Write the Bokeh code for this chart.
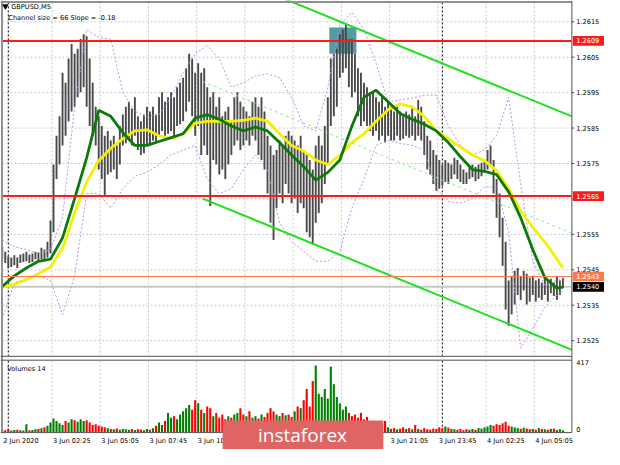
from bokeh.plotting import figure
from bokeh.models import Range1d
from bokeh.core.properties import value
from bokeh.embed import file_html
from bokeh.resources import INLINE

# ---------------- data ----------------
# one entry per 10-minute bar; time = M5 bar index counted from 3 Jun 00:00
bar_time = list(range(-4, 370, 2))
bar_high = [
    1.25515, 1.25501, 1.25488, 1.25485, 1.25491, 1.25485, 1.25493, 1.25496, 1.25501, 1.25493,
    1.25496, 1.25501, 1.25499, 1.25512, 1.25507, 1.25529, 1.25589, 1.25747, 1.25828, 1.25883,
    1.26006, 1.25978, 1.26046, 1.26087, 1.26060, 1.26074, 1.26101, 1.26115, 1.26109, 1.26046,
    1.25978, 1.25910, 1.25883, 1.25856, 1.25828, 1.25842, 1.25815, 1.25828, 1.25801, 1.25856,
    1.25888, 1.25910, 1.25924, 1.25905, 1.25937, 1.25883, 1.25869, 1.25888, 1.25910, 1.25897,
    1.25910, 1.25888, 1.25937, 1.25951, 1.25924, 1.25937, 1.25951, 1.25937, 1.25965, 1.25978,
    1.25992, 1.26019, 1.26060, 1.26046, 1.26006, 1.26033, 1.26006, 1.26019, 1.25965, 1.25937,
    1.25951, 1.25910, 1.25937, 1.25883, 1.25897, 1.25910, 1.25869, 1.25937, 1.25951, 1.25924,
    1.25910, 1.25897, 1.25883, 1.25924, 1.25937, 1.25910, 1.25937, 1.25897, 1.25828, 1.25801,
    1.25774, 1.25788, 1.25815, 1.25801, 1.25828, 1.25842, 1.25828, 1.25815, 1.25801, 1.25828,
    1.25788, 1.25774, 1.25760, 1.25733, 1.25801, 1.25828, 1.25801, 1.25856, 1.25937, 1.26046,
    1.26060, 1.26074, 1.26115, 1.26128, 1.26142, 1.26101, 1.26101, 1.26060, 1.26019, 1.26006,
    1.25978, 1.25965, 1.25951, 1.25951, 1.25937, 1.25924, 1.25937, 1.25910, 1.25924, 1.25910,
    1.25897, 1.25910, 1.25897, 1.25883, 1.25897, 1.25888, 1.25905, 1.25883, 1.25929, 1.25910,
    1.25869, 1.25828, 1.25815, 1.25788, 1.25774, 1.25760, 1.25747, 1.25760, 1.25752, 1.25747,
    1.25766, 1.25760, 1.25747, 1.25733, 1.25725, 1.25741, 1.25747, 1.25741, 1.25747, 1.25752,
    1.25760, 1.25788, 1.25801, 1.25760, 1.25706, 1.25665, 1.25597, 1.25529, 1.25420, 1.25433,
    1.25447, 1.25455, 1.25433, 1.25447, 1.25439, 1.25428, 1.25433, 1.25420, 1.25425, 1.25414,
    1.25428, 1.25420, 1.25425, 1.25414, 1.25433, 1.25420, 1.25428,
]
bar_low = [
    1.25480, 1.25469, 1.25455, 1.25458, 1.25463, 1.25455, 1.25469, 1.25472, 1.25474, 1.25469,
    1.25472, 1.25480, 1.25474, 1.25480, 1.25480, 1.25485, 1.25496, 1.25556, 1.25706, 1.25747,
    1.25801, 1.25828, 1.25869, 1.25897, 1.25910, 1.25937, 1.25951, 1.25965, 1.25910, 1.25856,
    1.25828, 1.25801, 1.25733, 1.25706, 1.25660, 1.25719, 1.25725, 1.25733, 1.25706, 1.25747,
    1.25801, 1.25807, 1.25815, 1.25801, 1.25828, 1.25788, 1.25774, 1.25779, 1.25801, 1.25801,
    1.25815, 1.25807, 1.25828, 1.25842, 1.25828, 1.25834, 1.25842, 1.25828, 1.25856, 1.25861,
    1.25869, 1.25897, 1.25924, 1.25883, 1.25828, 1.25856, 1.25774, 1.25801, 1.25774, 1.25630,
    1.25760, 1.25747, 1.25719, 1.25733, 1.25706, 1.25747, 1.25774, 1.25801, 1.25815, 1.25788,
    1.25801, 1.25815, 1.25801, 1.25828, 1.25815, 1.25774, 1.25760, 1.25733, 1.25665, 1.25583,
    1.25534, 1.25624, 1.25665, 1.25638, 1.25692, 1.25665, 1.25638, 1.25651, 1.25610, 1.25638,
    1.25624, 1.25556, 1.25542, 1.25521, 1.25583, 1.25610, 1.25638, 1.25692, 1.25747, 1.25856,
    1.25883, 1.25910, 1.25992, 1.26006, 1.26019, 1.25965, 1.25937, 1.25951, 1.25883, 1.25856,
    1.25869, 1.25856, 1.25842, 1.25828, 1.25842, 1.25815, 1.25828, 1.25809, 1.25828, 1.25815,
    1.25815, 1.25828, 1.25815, 1.25820, 1.25828, 1.25823, 1.25828, 1.25815, 1.25828, 1.25815,
    1.25774, 1.25733, 1.25719, 1.25692, 1.25673, 1.25679, 1.25687, 1.25698, 1.25692, 1.25706,
    1.25719, 1.25706, 1.25698, 1.25692, 1.25692, 1.25706, 1.25711, 1.25700, 1.25706, 1.25714,
    1.25725, 1.25733, 1.25741, 1.25665, 1.25597, 1.25542, 1.25461, 1.25338, 1.25292, 1.25324,
    1.25352, 1.25379, 1.25365, 1.25392, 1.25352, 1.25360, 1.25379, 1.25360, 1.25371, 1.25365,
    1.25379, 1.25360, 1.25384, 1.25376, 1.25365, 1.25379, 1.25398,
]
volume = [
    15, 12, 18, 10, 14, 15, 12, 10, 50, 12, 14, 18, 20, 25, 30, 40, 60, 85, 70, 55,
    45, 70, 60, 80, 75, 65, 80, 70, 75, 60, 45, 50, 40, 35, 30, 25, 20, 18, 22, 15,
    20, 18, 15, 20, 14, 18, 16, 12, 20, 15, 25, 40, 60, 45, 70, 120, 90, 100, 80, 110,
    130, 150, 170, 140, 200, 180, 140, 120, 160, 150, 100, 120, 90, 110, 80, 100, 90, 110, 120, 150,
    110, 100, 130, 90, 100, 85, 110, 95, 120, 150, 130, 110, 100, 120, 105, 110, 95, 130, 160, 150,
    200, 270, 160, 320, 417, 240, 220, 270, 210, 410, 300, 220, 180, 140, 160, 120, 100, 110, 90, 120,
    80, 95, 70, 60, 50, 45, 55, 70, 30, 20, 25, 18, 22, 30, 20, 25, 18, 45, 20, 15,
    25, 18, 15, 22, 20, 30, 25, 35, 28, 20, 18, 15, 20, 12, 18, 15, 20, 14, 25, 22,
    30, 35, 45, 40, 50, 45, 55, 65, 40, 35, 30, 25, 20, 28, 22, 18, 20, 15, 25, 20,
    18, 15, 20, 22, 14, 18, 12,
]

# indicator lines sampled every 40 minutes
ind_time = list(range(-4, 368, 8)) + [368]
ma_green = [
    1.25403, 1.25433, 1.25455, 1.25474, 1.25480, 1.25540, 1.25651, 1.25766, 1.25900, 1.25883,
    1.25837, 1.25801, 1.25801, 1.25812, 1.25823, 1.25834, 1.25878, 1.25888, 1.25875, 1.25856,
    1.25842, 1.25853, 1.25842, 1.25809, 1.25774, 1.25741, 1.25703, 1.25725, 1.25760, 1.25856,
    1.25937, 1.25957, 1.25924, 1.25891, 1.25875, 1.25861, 1.25842, 1.25809, 1.25769, 1.25733,
    1.25728, 1.25719, 1.25670, 1.25597, 1.25507, 1.25428, 1.25398, 1.25401,
]
ma_yellow = [
    1.25401, 1.25409, 1.25422, 1.25439, 1.25458, 1.25510, 1.25610, 1.25698, 1.25758, 1.25793,
    1.25820, 1.25842, 1.25845, 1.25828, 1.25820, 1.25834, 1.25864, 1.25869, 1.25869, 1.25869,
    1.25872, 1.25878, 1.25869, 1.25834, 1.25801, 1.25785, 1.25760, 1.25747, 1.25774, 1.25809,
    1.25834, 1.25869, 1.25902, 1.25918, 1.25910, 1.25883, 1.25842, 1.25820, 1.25796, 1.25774,
    1.25758, 1.25730, 1.25679, 1.25616, 1.25570, 1.25529, 1.25480, 1.25455,
]
band_upper = [
    1.25534, 1.25515, 1.25507, 1.25496, 1.25507, 1.25597, 1.25910, 1.26128, 1.26106, 1.26101,
    1.25951, 1.25897, 1.25883, 1.25888, 1.25937, 1.26006, 1.26060, 1.26082, 1.26046, 1.25965,
    1.25978, 1.25997, 1.26003, 1.25992, 1.25937, 1.25856, 1.25842, 1.25965, 1.26142, 1.26177,
    1.26128, 1.26033, 1.25924, 1.25929, 1.25935, 1.25943, 1.25943, 1.25856, 1.25801, 1.25774,
    1.25788, 1.25828, 1.25937, 1.25692, 1.25474, 1.25406, 1.25420, 1.25425,
]
band_lower = [
    1.25311, 1.25414, 1.25425, 1.25433, 1.25420, 1.25324, 1.25433, 1.25665, 1.25665, 1.25624,
    1.25679, 1.25714, 1.25725, 1.25747, 1.25774, 1.25788, 1.25801, 1.25706, 1.25665, 1.25679,
    1.25733, 1.25774, 1.25733, 1.25583, 1.25529, 1.25502, 1.25474, 1.25474, 1.25502, 1.25624,
    1.25706, 1.25801, 1.25815, 1.25807, 1.25801, 1.25788, 1.25679, 1.25643, 1.25638, 1.25651,
    1.25684, 1.25684, 1.25556, 1.25229, 1.25284, 1.25344, 1.25379, 1.25392,
]

# linear regression channel (start / end time, prices)
channel_time = [129, 374]
channel_upper = [1.26309, 1.25883]
channel_mid = [1.25981, 1.25553]
channel_lower = [1.25651, 1.25224]

# rectangle object
box_time = [213, 231]
box_price = [1.26060, 1.26134]

# horizontal levels
level_price = [1.26096, 1.25658, 1.25431]
level_label = ["1.2609", "1.2565", "1.2543"]
bid_price = 1.25402
bid_label = "1.2540"

# axes
price_ticks = [1.2525, 1.2535, 1.2545, 1.2555, 1.2565, 1.2575, 1.2585, 1.2595, 1.2605, 1.2615]
price_tick_labels = ["1.2525", "1.2535", "1.2545", "1.2555", "1.2565",
                     "1.2575", "1.2585", "1.2595", "1.2605", "1.2615"]
time_ticks = [-4, 29, 61, 93, 125, 157, 189, 221, 253, 285, 317, 349]
time_tick_labels = ["2 Jun 2020", "3 Jun 02:25", "3 Jun 05:05", "3 Jun 07:45", "3 Jun 10:25",
                    "3 Jun 13:05", "3 Jun 15:45", "3 Jun 18:25", "3 Jun 21:05", "3 Jun 23:45",
                    "4 Jun 02:25", "4 Jun 05:05"]
day_breaks = [0, 288]
vol_ticks = [417, 0]
vol_tick_labels = ["417", "0"]

# ---------------- layout helpers (reference pixel -> data) ----------------
PX_PER_BAR = 1.547
X0_PX = 8.0
P_TOP = 1.26210
P_PER_PX = 0.00002725
V_BASE_PX = 447.0
V_PER_PX = 417 / 69.0


def bx(px):
    return (px - X0_PX) / PX_PER_BAR


def py(pyv):
    return P_TOP - P_PER_PX * pyv


def pv(pyv):
    return (V_BASE_PX - pyv) * V_PER_PX


FONT = value("DejaVu Sans")
FS = value("6.6px")

p = figure(width=604, height=449,
           x_range=Range1d(bx(0), bx(620)), y_range=Range1d(py(465), py(0)),
           output_backend="svg", toolbar_location=None,
           x_axis_location=None, y_axis_location=None, min_border=0,
           background_fill_color="white", border_fill_color="white",
           outline_line_color=None)
p.grid.visible = False
p.extra_y_ranges = {"vol": Range1d(pv(465), pv(0))}

GRID = "#c8c8c8"
# horizontal grid (price panel)
p.segment(x0=[bx(2)] * len(price_ticks), x1=[bx(586)] * len(price_ticks),
          y0=price_ticks, y1=price_ticks, line_color=GRID, line_dash="2 2", line_width=1)
# vertical grid in both panels
vt = time_ticks[1:]
for top, bot in ((2, 368), (373, 447)):
    p.segment(x0=vt, x1=vt, y0=[py(top)] * len(vt), y1=[py(bot)] * len(vt),
              line_color=GRID, line_dash="2 2", line_width=1)
    p.segment(x0=day_breaks, x1=day_breaks, y0=[py(top)] * 2, y1=[py(bot)] * 2,
              line_color="#000000", line_dash="2 2", line_width=1)

# rectangle object (background)
p.quad(left=[box_time[0]], right=[box_time[1]], bottom=[box_price[0]], top=[box_price[1]],
       fill_color="#3e9098", fill_alpha=0.9, line_color=None)

# bid line
p.segment(x0=[bx(2)], x1=[bx(586)], y0=[bid_price], y1=[bid_price], line_color="#c8c8c8", line_width=2)

# price bars
p.segment(x0=bar_time, x1=bar_time, y0=bar_low, y1=bar_high, line_color="#4a4a4a", line_width=1.9)

# envelope bands
p.line(ind_time, band_upper, line_color="#c58be8", line_dash="2 2", line_width=1)
p.line(ind_time, band_lower, line_color="#c58be8", line_dash="2 2", line_width=1)

# moving averages
p.line(ind_time, ma_yellow, line_color="#f5f000", line_width=2.8)
p.line(ind_time, ma_green, line_color="#0b7a0b", line_width=2.8)

# regression channel
p.line(channel_time, channel_upper, line_color="#1fe01f", line_width=2)
p.line(channel_time, channel_lower, line_color="#1fe01f", line_width=2)
p.line(channel_time, channel_mid, line_color="#8ee88e", line_width=1, line_dash="3 3")

# horizontal levels
lv_colors = ["#ff1a1a", "#ff1a1a", "#ff7a4a"]
lv_widths = [2, 2, 1]
for lv, c, w in zip(level_price, lv_colors, lv_widths):
    p.segment(x0=[bx(2)], x1=[bx(586)], y0=[lv], y1=[lv], line_color=c, line_width=w)

# volumes
mids = [(h + l) / 2 for h, l in zip(bar_high, bar_low)]
vcol = ["#008000" if i == 0 or mids[i] >= mids[i - 1] else "#ff0000" for i in range(len(mids))]
p.vbar(x=bar_time, top=volume, bottom=0, width=1.4, fill_color=vcol, line_color=None,
       y_range_name="vol")

# frame / panel borders
BORDER = "#505050"
p.segment(x0=[bx(0)], x1=[bx(586.5)], y0=[py(1.5)], y1=[py(1.5)], line_color="#909090", line_width=2)
p.segment(x0=[bx(1.5)], x1=[bx(1.5)], y0=[py(0)], y1=[py(447.5)], line_color="#909090", line_width=2)
p.segment(x0=[bx(0)] * 3, x1=[bx(586.5)] * 3, y0=[py(368.5), py(372.5), py(447.5)],
          y1=[py(368.5), py(372.5), py(447.5)], line_color=BORDER, line_width=1)
p.segment(x0=[bx(586.5)], x1=[bx(586.5)], y0=[py(0)], y1=[py(447.5)], line_color=BORDER, line_width=1)

# right price scale
p.segment(x0=[bx(586.5)] * len(price_ticks), x1=[bx(589)] * len(price_ticks),
          y0=price_ticks, y1=price_ticks, line_color=BORDER, line_width=1)
p.text(x=[bx(591)] * len(price_ticks), y=price_ticks, text=price_tick_labels,
       text_font=FONT, text_font_size=FS, text_color="#000000",
       text_align="left", text_baseline="middle")

# level tags on the scale
tag_h = 5 * P_PER_PX
tag_prices = level_price + [bid_price]
tag_texts = level_label + [bid_label]
tag_colors = lv_colors + ["#000000"]
p.quad(left=[bx(587.5)] * 4, right=[bx(620)] * 4,
       bottom=[v - tag_h for v in tag_prices], top=[v + tag_h for v in tag_prices],
       fill_color=tag_colors, line_color=None)
p.text(x=[bx(591)] * 4, y=tag_prices, text=tag_texts, text_font=FONT, text_font_size=FS,
       text_color="#ffffff", text_align="left", text_baseline="middle")

# volume scale
p.text(x=[bx(591)] * 2, y=vol_ticks, text=vol_tick_labels, text_font=FONT, text_font_size=FS,
       text_color="#000000", text_align="left", text_baseline="bottom", y_range_name="vol")

# time scale
p.text(x=time_ticks, y=[py(456)] * len(time_ticks), text=time_tick_labels, x_offset=1,
       text_font=FONT, text_font_size=FS, text_color="#000000",
       text_align="left", text_baseline="middle")

# captions
p.scatter(x=[bx(5)], y=[py(6)], marker="inverted_triangle", size=5, color="#000000")
p.text(x=[bx(11), bx(8), bx(7)], y=[py(6.5), py(18), py(382)],
       text=["GBPUSD,M5", "Channel size = 66 Slope = -0.18", "Volumes 14"],
       text_font=FONT, text_font_size=FS, text_color="#000000",
       text_align="left", text_baseline="middle")

# watermark
p.quad(left=[bx(228)], right=[bx(393)], bottom=[py(465)], top=[py(435)],
       fill_color="#df6464", line_color=None)
p.text(x=[bx(310)], y=[py(450)], text=["instaforex"], text_font=value("Open Sans"),
       text_font_size=value("19px"), text_color="#ffffff",
       text_align="center", text_baseline="middle")

open("out.html", "w").write(file_html(p, INLINE))
